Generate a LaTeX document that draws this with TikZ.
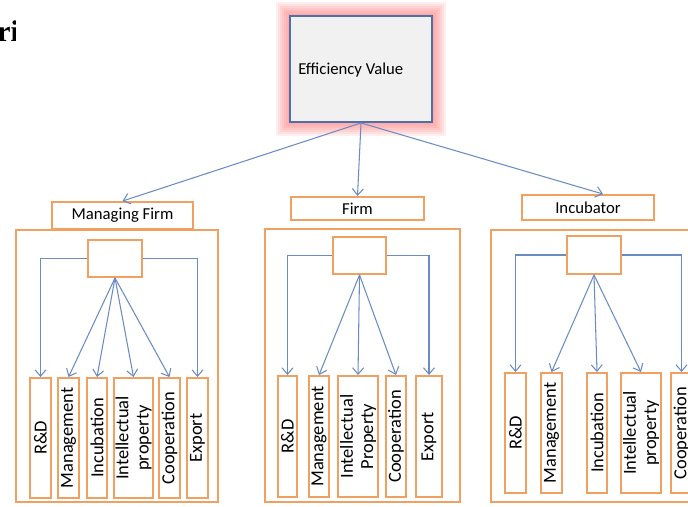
\documentclass[tikz,border=0pt]{standalone}
\usepackage{fontspec}
\setmainfont{Carlito}
\newfontfamily\pageserif{Liberation Serif}
\usetikzlibrary{arrows.meta}

\definecolor{boxorange}{HTML}{F0A060}
\definecolor{linkblue}{HTML}{6B8CC2}
\definecolor{evborder}{HTML}{4F6FA8}
\definecolor{evfill}{HTML}{F1F1F1}

\begin{document}
\begin{tikzpicture}[x=0.02cm,y=-0.02cm,>={Straight Barb[length=1.3mm,width=2.2mm]},
  box/.style={draw=boxorange,line width=1.1pt,inner sep=1pt,font=\fontsize{9.5}{11}\selectfont},
  label/.style={box,fill=white},
  leaf/.style={box,rotate=90,align=center,minimum width=2.4cm,minimum height=0.42cm,
    font=\fontsize{10.5}{11.5}\selectfont},
  link/.style={->,draw=linkblue,line width=0.6pt}]
  \useasboundingbox (0,0) rectangle (688,506);
  \clip (0,0) rectangle (688,506);

  % cut-off page text
  \begin{scope}
    \clip (0,0) rectangle (15,60);
    \node[font=\pageserif\bfseries\fontsize{17}{18}\selectfont,anchor=base west,inner sep=0pt] (ri) at (-3,42) {ri};
  \end{scope}

  % top box with red glow
  \foreach \g in {14,12,...,2}
    \fill[red!60,opacity=0.11] (290-\g,16-\g) rectangle (432+\g,122+\g);
  \node[draw=evborder,fill=evfill,line width=1.1pt,minimum width=2.84cm,minimum height=2.12cm] (ev) at (361,69) {};
  \node[anchor=west,inner sep=0pt,font=\fontsize{9.5}{11}\selectfont] (evl) at (298,70) {Efficiency Value};

  % groups
  \node[box,minimum width=4.04cm,minimum height=5.44cm] (mfg) at (117,366) {};
  \node[box,minimum width=3.9cm,minimum height=5.46cm] (fg) at (362.5,365.5) {};
  \node[box,minimum width=4.0cm,minimum height=5.44cm] (ig) at (591,366) {};

  \node[label,minimum width=2.82cm,minimum height=0.54cm] (mf) at (122.5,215.5) {Managing Firm};
  \node[label,minimum width=2.66cm,minimum height=0.46cm] (f) at (357.5,208.5) {Firm};
  \node[label,minimum width=2.64cm,minimum height=0.5cm] (inc) at (588,207.5) {Incubator};

  \draw[link] (ev.south) -- (mf.north);
  \draw[link] (ev.south) -- (f.north);
  \draw[link] (ev.south) -- ([xshift=0.3cm]inc.north);

  % managing firm
  \node[box,minimum width=1.08cm,minimum height=0.74cm] (mfh) at (115,258.5) {};
  \node[leaf] (mf1) at (40.5,438) {R\&D};
  \node[leaf] (mf2) at (68.5,438) {Management};
  \node[leaf,minimum height=0.4cm] (mf3) at (97,438) {Incubation};
  \node[leaf,minimum height=0.74cm] (mf4) at (133.5,438) {Intellectual\\property};
  \node[leaf] (mf5) at (169.5,438) {Cooperation};
  \node[leaf] (mf6) at (197.5,438) {Export};
  \draw[link] (mfh.west) -| (mf1.east);
  \draw[link] (mfh.east) -| (mf6.east);
  \foreach \n in {2,3,4,5}
    \draw[link] (mfh.south) -- (mf\n.east);

  % firm
  \node[box,minimum width=1.06cm,minimum height=0.74cm] (fh) at (359.5,255.5) {};
  \node[leaf,minimum width=2.42cm,minimum height=0.38cm] (f1) at (287.5,436.5) {R\&D};
  \node[leaf,minimum width=2.42cm,minimum height=0.4cm] (f2) at (319,436.5) {Management};
  \node[leaf,minimum width=2.42cm,minimum height=0.76cm] (f3) at (358,436.5) {Intellectual\\Property};
  \node[leaf,minimum width=2.42cm,minimum height=0.4cm] (f4) at (396,436.5) {Cooperation};
  \node[leaf,minimum width=2.42cm,minimum height=0.52cm] (f5) at (429,436.5) {Export};
  \draw[link] (fh.west) -| (f1.east);
  \draw[link] (fh.east) -| (f5.east);
  \foreach \n in {2,3,4}
    \draw[link] (fh.south) -- (f\n.east);

  % incubator
  \node[box,minimum width=1.08cm,minimum height=0.76cm] (ih) at (594,255) {};
  \node[leaf] (i1) at (515.5,433) {R\&D};
  \node[leaf] (i2) at (551.5,433) {Management};
  \node[leaf,minimum height=0.4cm] (i3) at (597,433) {Incubation};
  \node[leaf,minimum height=0.76cm] (i4) at (641,433) {Intellectual\\property};
  \node[leaf] (i5) at (681.5,433) {Cooperation};
  \draw[link] (ih.west) -| (i1.east);
  \draw[link] (ih.east) -| (i5.east);
  \foreach \n in {2,3,4}
    \draw[link] (ih.south) -- (i\n.east);
\end{tikzpicture}
\end{document}
